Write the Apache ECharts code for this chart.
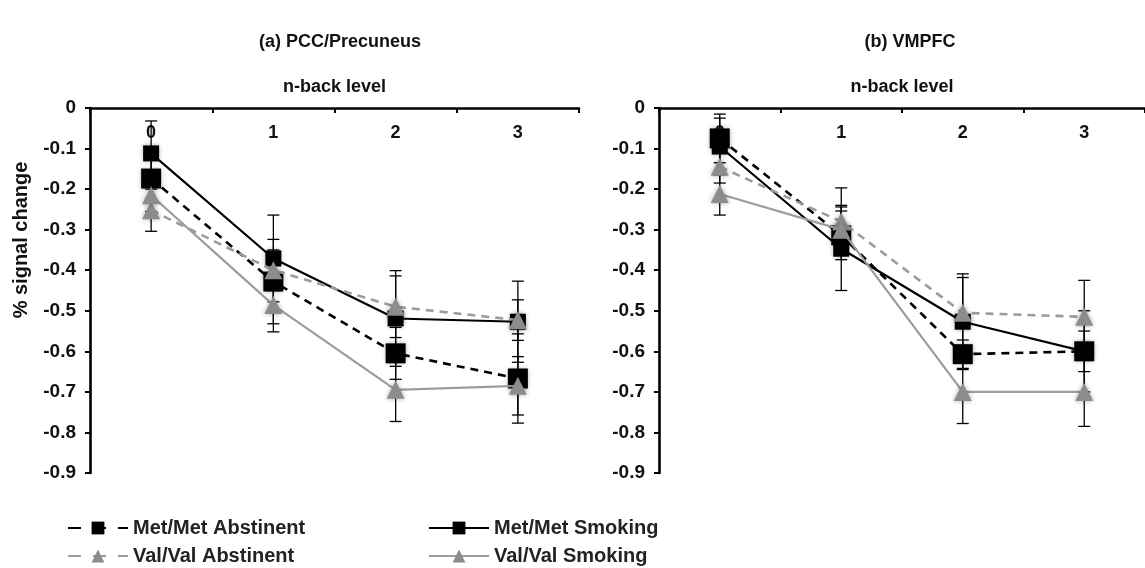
<!DOCTYPE html>
<html>
<head>
<meta charset="utf-8">
<script src="https://cdn.jsdelivr.net/npm/echarts@6/dist/echarts.min.js"></script>
<style>
  html, body { margin: 0; padding: 0; background: #fff; }
  #chart { width: 1145px; height: 568px; }
</style>
</head>
<body>
<div id="chart"></div>
<script>
// ---------- data ----------
const categories = ['0', '1', '2', '3'];
const seriesNames = ['Met/Met Abstinent', 'Met/Met Smoking', 'Val/Val Abstinent', 'Val/Val Smoking'];
const panelTitles = ['(a) PCC/Precuneus', '(b) VMPFC'];
const xAxisName = 'n-back level';
const yAxisName = '% signal change';

// (a) PCC/Precuneus
const pccMetAbs = [-0.174, -0.428, -0.605, -0.667];
const pccMetSmk = [-0.112, -0.371, -0.519, -0.527];
const pccValAbs = [-0.252, -0.400, -0.490, -0.523];
const pccValSmk = [-0.215, -0.486, -0.695, -0.685];
const pccMetAbsErr = [0.050, 0.104, 0.064, 0.110];
const pccMetSmkErr = [0.080, 0.107, 0.118, 0.100];
const pccValAbsErr = [0.052, 0.050, 0.076, 0.050];
const pccValSmkErr = [0.040, 0.066, 0.078, 0.072];

// (b) VMPFC
const vmMetAbs = [-0.075, -0.314, -0.607, -0.600];
const vmMetSmk = [-0.095, -0.347, -0.527, -0.600];
const vmValAbs = [-0.145, -0.280, -0.505, -0.515];
const vmValSmk = [-0.212, -0.300, -0.700, -0.700];
const vmMetAbsErr = [0.060, 0.060, 0.035, 0.050];
const vmMetSmkErr = [0.070, 0.103, 0.118, 0.100];
const vmValAbsErr = [0.040, 0.083, 0.087, 0.090];
const vmValSmkErr = [0.052, 0.060, 0.078, 0.085];

// ---------- styles ----------
const FONT = "'Liberation Sans', Arial, sans-serif";
const GRAY_MARK = '#8c8c8c';
const GRAY_LINE = '#9c9c9c';
const styles = [
  { color: '#000', line: '#000', type: [8, 6], width: 2.6, symbol: 'rect', size: 20 },
  { color: '#000', line: '#000', type: 'solid', width: 2.2, symbol: 'rect', size: 16 },
  { color: GRAY_MARK, line: GRAY_LINE, type: [8, 6], width: 2.6, symbol: 'triangle', size: 18 },
  { color: GRAY_MARK, line: GRAY_LINE, type: 'solid', width: 2.2, symbol: 'triangle', size: 18 }
];

const panels = [
  { vals: [pccMetAbs, pccMetSmk, pccValAbs, pccValSmk], errs: [pccMetAbsErr, pccMetSmkErr, pccValAbsErr, pccValSmkErr] },
  { vals: [vmMetAbs, vmMetSmk, vmValAbs, vmValSmk], errs: [vmMetAbsErr, vmMetSmkErr, vmValAbsErr, vmValSmkErr] }
];

function errRender(params, api) {
  const x = api.value(0), lo = api.value(1), hi = api.value(2);
  const pLo = api.coord([x, lo]);
  const pHi = api.coord([x, hi]);
  const w = 6;
  const st = { stroke: '#000', lineWidth: 1.3 };
  return {
    type: 'group',
    children: [
      { type: 'line', shape: { x1: pLo[0], y1: pLo[1], x2: pHi[0], y2: pHi[1] }, style: st },
      { type: 'line', shape: { x1: pLo[0] - w, y1: pLo[1], x2: pLo[0] + w, y2: pLo[1] }, style: st },
      { type: 'line', shape: { x1: pHi[0] - w, y1: pHi[1], x2: pHi[0] + w, y2: pHi[1] }, style: st }
    ]
  };
}

const series = [];
panels.forEach((p, pi) => {
  p.vals.forEach((v, si) => {
    series.push({
      type: 'custom',
      name: seriesNames[si] + ' err',
      xAxisIndex: pi, yAxisIndex: pi,
      renderItem: errRender,
      encode: { x: 0, y: [1, 2] },
      data: v.map((val, i) => [i, val - p.errs[si][i], val + p.errs[si][i]]),
      z: 1,
      silent: true
    });
  });
  p.vals.forEach((v, si) => {
    const s = styles[si];
    series.push({
      type: 'line',
      name: seriesNames[si],
      xAxisIndex: pi, yAxisIndex: pi,
      data: v,
      symbol: s.symbol,
      symbolSize: s.size,
      z: 3 + si,
      itemStyle: { color: s.color, shadowBlur: 5, shadowColor: 'rgba(0,0,0,0.35)' },
      lineStyle: { color: s.line, width: s.width, type: s.type },
      animation: false
    });
  });
});

function xAxis(gi) {
  return {
    type: 'category', gridIndex: gi, position: 'top', data: categories,
    boundaryGap: true,
    name: xAxisName, nameLocation: 'middle', nameGap: 12,
    nameTextStyle: { fontFamily: FONT, fontWeight: 'bold', fontSize: 18, color: '#111', verticalAlign: 'bottom' },
    axisLine: { show: true, lineStyle: { color: '#000', width: 2.6 } },
    axisTick: { show: true, inside: true, length: 5, lineStyle: { color: '#000', width: 2 } },
    axisLabel: { inside: true, margin: 16, fontFamily: FONT, fontWeight: 'bold', fontSize: 18, color: '#111' },
    splitLine: { show: false }
  };
}
function yAxis(gi) {
  return {
    type: 'value', gridIndex: gi, min: -0.9, max: 0, interval: 0.1,
    axisLine: { show: true, lineStyle: { color: '#000', width: 2.6 } },
    axisTick: { show: true, length: 5, lineStyle: { color: '#000', width: 2 } },
    axisLabel: { margin: 14, fontFamily: FONT, fontWeight: 'bold', fontSize: 19, color: '#111',
      formatter: v => (Math.abs(v) < 1e-9 ? '0' : v.toFixed(1)) },
    splitLine: { show: false }
  };
}

function legendAt(name, left, top, dashed) {
  return {
    orient: 'horizontal', left: left, top: top, itemWidth: 60, itemHeight: 16, itemGap: 10,
    data: [{ name: name, lineStyle: dashed ? { type: [13, 12] } : undefined }],
    textStyle: { fontFamily: FONT, fontWeight: 'bold', fontSize: 20, color: '#222', lineHeight: 20 }
  };
}

const option = {
  backgroundColor: '#fff',
  animation: false,
  title: [
    { text: panelTitles[0], left: 335, top: 28, textAlign: 'center',
      textStyle: { fontFamily: FONT, fontWeight: 'bold', fontSize: 18, color: '#111' } },
    { text: panelTitles[1], left: 905, top: 28, textAlign: 'center',
      textStyle: { fontFamily: FONT, fontWeight: 'bold', fontSize: 18, color: '#111' } }
  ],
  grid: [
    { left: 90, top: 108, width: 489, height: 365 },
    { left: 659, top: 108, width: 491, height: 365 }
  ],
  xAxis: [xAxis(0), xAxis(1)],
  yAxis: [yAxis(0), yAxis(1)],
  legend: [
    legendAt(seriesNames[0], 62, 513, true),
    legendAt(seriesNames[2], 62, 541, true),
    legendAt(seriesNames[1], 423, 513, false),
    legendAt(seriesNames[3], 423, 541, false)
  ],
  graphic: [
    { type: 'text', x: 21, y: 240, rotation: Math.PI / 2,
      style: { text: yAxisName, fontFamily: FONT, fontWeight: 'bold', fontSize: 20, fill: '#111',
        textAlign: 'center', textVerticalAlign: 'middle' } }
  ],
  series: series
};

const chart = echarts.init(document.getElementById('chart'), null, { renderer: 'canvas' });
chart.setOption(option);
</script>
</body>
</html>
